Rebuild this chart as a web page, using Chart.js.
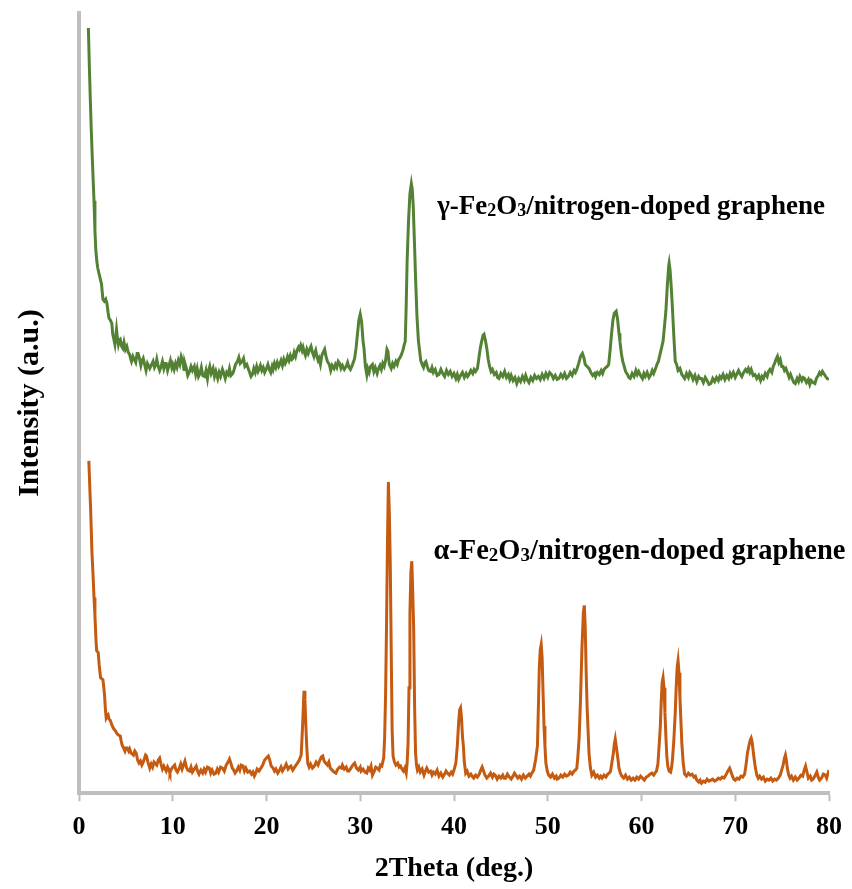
<!DOCTYPE html>
<html>
<head>
<meta charset="utf-8">
<script src="https://cdn.jsdelivr.net/npm/chart.js@4.4.1/dist/chart.umd.min.js"></script>
<style>
  body { margin: 0; background: #fff; }
  #wrap { width: 852px; height: 889px; }
</style>
</head>
<body>
<div id="wrap"><canvas id="xrd"></canvas></div>
<script>
// 2theta positions and intensities (a.u., offset traces)
var gammaTheta = [1.0,1.1,1.2,1.3,1.4,1.5,1.6,1.7,1.8,1.9,2.0,2.2,2.4,2.55,2.7,2.85,2.98,3.1,3.2,3.35,3.5,3.6,3.7,3.83,3.92,4.0,4.1,4.2,4.3,4.4,4.55,4.68,4.8,4.95,5.1,5.25,5.4,5.5,5.6,5.75,5.9,6.05,6.2,6.3,6.45,6.6,6.7,6.85,7.0,7.15,7.3,7.45,7.55,7.7,7.9,8.05,8.2,8.3,8.45,8.6,8.75,8.9,9.05,9.2,9.3,9.45,9.6,9.75,9.9,10.0,10.15,10.3,10.45,10.6,10.75,10.9,11.05,11.2,11.3,11.45,11.6,11.8,11.95,12.1,12.3,12.45,12.6,12.75,12.9,13.05,13.2,13.4,13.55,13.7,13.8,13.95,14.1,14.3,14.45,14.6,14.8,14.95,15.1,15.3,15.45,15.6,15.75,15.9,16.05,16.2,16.4,16.55,16.7,16.9,17.05,17.2,17.4,17.55,17.7,17.9,18.05,18.2,18.35,18.5,18.65,18.8,18.95,19.1,19.2,19.35,19.5,19.65,19.8,20.0,20.15,20.3,20.45,20.6,20.7,20.85,21.0,21.15,21.3,21.4,21.55,21.7,21.85,22.0,22.1,22.25,22.4,22.55,22.7,22.8,22.95,23.1,23.25,23.4,23.5,23.65,23.8,23.9,24.0,24.15,24.3,24.45,24.6,24.75,24.9,25.05,25.1,25.25,25.4,25.5,25.6,25.75,25.9,26.05,26.2,26.35,26.5,26.7,26.85,27.0,27.2,27.35,27.5,27.65,27.8,27.95,28.1,28.3,28.5,28.65,28.8,28.95,29.1,29.25,29.4,29.55,29.7,29.85,30.0,30.15,30.3,30.4,30.55,30.7,30.8,30.95,31.1,31.3,31.45,31.6,31.8,31.95,32.1,32.25,32.4,32.55,32.7,32.85,32.95,33.1,33.3,33.45,33.6,33.8,33.95,34.1,34.25,34.4,34.55,34.7,34.8,34.9,35.0,35.15,35.3,35.45,35.55,35.65,35.8,35.9,36.05,36.2,36.3,36.45,36.6,36.75,36.9,37.0,37.15,37.3,37.5,37.65,37.8,38.0,38.2,38.4,38.6,38.8,39.0,39.2,39.4,39.6,39.8,40.0,40.2,40.35,40.5,40.7,40.9,41.1,41.3,41.45,41.6,41.8,42.0,42.15,42.3,42.5,42.65,42.8,42.95,43.1,43.2,43.35,43.5,43.65,43.8,43.95,44.1,44.3,44.5,44.65,44.8,45.0,45.2,45.4,45.6,45.8,45.95,46.1,46.3,46.5,46.7,46.9,47.1,47.3,47.5,47.65,47.8,48.0,48.2,48.4,48.6,48.8,49.0,49.2,49.4,49.6,49.8,50.0,50.2,50.4,50.6,50.8,51.0,51.2,51.4,51.6,51.8,52.0,52.2,52.4,52.6,52.8,52.95,53.1,53.3,53.5,53.7,53.85,54.0,54.2,54.4,54.6,54.8,55.0,55.1,55.3,55.5,55.7,55.85,56.0,56.2,56.35,56.5,56.65,56.8,56.95,57.1,57.3,57.45,57.6,57.7,57.85,58.0,58.1,58.3,58.5,58.65,58.8,59.0,59.2,59.4,59.55,59.7,59.9,60.1,60.25,60.4,60.6,60.8,61.0,61.15,61.3,61.5,61.65,61.8,61.95,62.1,62.3,62.45,62.6,62.75,62.9,62.95,63.05,63.2,63.3,63.45,63.6,63.75,63.9,64.1,64.3,64.45,64.6,64.8,65.0,65.15,65.3,65.5,65.7,65.9,66.1,66.25,66.4,66.6,66.8,67.0,67.2,67.4,67.6,67.8,68.0,68.2,68.35,68.5,68.7,68.9,69.1,69.3,69.45,69.6,69.8,70.0,70.2,70.35,70.5,70.7,70.9,71.1,71.25,71.4,71.55,71.7,71.9,72.1,72.3,72.5,72.7,72.85,73.0,73.2,73.4,73.55,73.7,73.9,74.05,74.2,74.35,74.5,74.65,74.8,74.95,75.1,75.25,75.4,75.6,75.75,75.9,76.1,76.25,76.4,76.6,76.75,76.9,77.1,77.25,77.4,77.6,77.8,77.95,78.1,78.3,78.5,78.65,78.85,79.0,79.15,79.3,79.5,79.65,79.8,80.0];
var gammaInt = [767,730,698,668,642,618,595,565,545,535,528,520,512,497,495,497,493,484,478,476,473,462,458,452,460,467,458,452,456,457,450,448,454,447,450,444,442,438,435,440,437,434,443,443,438,431,435,438,432,426,433,430,428,431,435,429,432,437,430,426,430,435,428,433,433,426,431,436,429,432,427,433,429,436,432,440,436,427,433,428,421,425,430,426,430,422,428,420,423,429,421,420,426,418,425,430,423,428,420,425,418,424,420,427,423,418,424,422,428,421,423,427,432,435,439,433,435,438,430,432,428,424,420,422,428,424,430,425,427,431,426,429,424,428,432,427,424,430,427,433,429,434,430,432,436,431,437,433,435,440,436,441,437,438,444,440,446,449,447,451,446,449,445,441,447,443,447,450,444,440,442,446,439,436,438,432,441,444,447,440,435,432,426,431,428,432,429,435,433,428,431,427,430,434,429,427,430,434,438,448,462,476,482,474,455,448,430,422,428,424,430,432,425,429,423,428,431,427,433,430,436,447,445,432,428,433,430,435,432,437,439,442,446,452,455,490,535,575,602,612,606,590,548,518,480,456,448,436,432,429,434,435,430,426,425,429,424,427,421,422,427,423,420,426,422,425,420,423,418,422,417,421,424,419,423,420,422,426,423,427,425,428,438,448,455,461,462,456,448,437,430,425,427,422,424,419,418,423,420,425,419,422,417,421,416,419,413,418,415,420,416,421,417,414,419,416,421,418,420,417,422,418,423,419,424,422,418,421,417,418,422,419,423,418,420,424,421,426,424,427,433,440,443,439,432,430,428,424,421,423,420,424,422,426,423,427,429,430,432,446,462,476,483,485,477,463,455,443,435,432,425,422,419,418,423,420,426,422,425,421,418,423,420,424,419,422,426,423,428,432,435,441,447,455,470,485,510,530,533,526,505,488,460,435,432,426,428,422,420,418,423,419,424,422,417,421,415,420,418,418,414,419,416,412,413,418,415,419,416,420,418,422,417,421,418,423,420,424,419,423,426,423,420,424,427,425,428,424,427,421,422,418,421,416,420,418,423,420,425,427,424,430,433,437,440,434,437,430,430,426,428,423,419,422,417,414,413,418,415,420,416,419,418,414,417,412,416,414,413,418,421,424,422,425,422,420,418,417];

var alphaTheta = [1.05,1.15,1.24,1.38,1.5,1.6,1.7,1.8,1.88,1.97,2.05,2.15,2.3,2.42,2.55,2.65,2.73,2.82,2.9,3.0,3.1,3.2,3.3,3.4,3.5,3.65,3.8,3.9,4.0,4.2,4.4,4.5,4.6,4.75,4.9,5.0,5.15,5.3,5.4,5.55,5.7,5.8,5.95,6.1,6.25,6.4,6.55,6.7,6.85,7.0,7.1,7.2,7.35,7.55,7.7,7.85,8.0,8.1,8.3,8.45,8.6,8.75,8.9,9.05,9.15,9.3,9.45,9.6,9.7,9.85,10.0,10.2,10.35,10.5,10.7,10.85,11.0,11.15,11.3,11.45,11.6,11.8,11.95,12.1,12.3,12.5,12.65,12.8,13.0,13.2,13.35,13.5,13.7,13.9,14.05,14.2,14.4,14.6,14.75,14.9,15.1,15.3,15.5,15.7,15.9,16.05,16.2,16.35,16.5,16.65,16.8,17.0,17.15,17.3,17.5,17.65,17.8,18.0,18.2,18.4,18.55,18.7,18.85,19.0,19.2,19.4,19.6,19.8,20.0,20.2,20.35,20.5,20.7,20.85,21.0,21.2,21.4,21.55,21.7,21.9,22.1,22.3,22.45,22.6,22.8,23.0,23.15,23.3,23.5,23.7,23.85,24.0,24.1,24.2,24.3,24.4,24.55,24.7,24.9,25.1,25.3,25.5,25.7,25.85,26.0,26.15,26.3,26.5,26.65,26.8,27.0,27.2,27.4,27.6,27.8,28.0,28.1,28.3,28.5,28.65,28.8,29.0,29.2,29.4,29.6,29.8,30.0,30.1,30.3,30.5,30.7,30.85,31.0,31.15,31.3,31.5,31.65,31.8,32.0,32.15,32.3,32.5,32.6,32.7,32.8,32.9,33.0,33.1,33.2,33.3,33.4,33.5,33.65,33.8,34.0,34.15,34.3,34.45,34.6,34.75,34.9,35.0,35.1,35.2,35.3,35.4,35.5,35.6,35.7,35.8,35.9,36.0,36.1,36.25,36.4,36.6,36.8,36.95,37.1,37.3,37.5,37.65,37.8,38.0,38.2,38.4,38.6,38.8,39.0,39.15,39.3,39.5,39.7,39.85,40.0,40.2,40.35,40.5,40.6,40.7,40.8,40.9,41.0,41.1,41.25,41.4,41.6,41.8,42.0,42.1,42.3,42.5,42.7,42.85,43.0,43.15,43.3,43.5,43.7,43.9,44.1,44.25,44.4,44.6,44.8,45.0,45.2,45.35,45.5,45.7,45.9,46.1,46.3,46.45,46.6,46.8,47.0,47.2,47.4,47.6,47.8,48.0,48.15,48.3,48.5,48.7,48.9,49.0,49.1,49.2,49.3,49.4,49.5,49.6,49.7,49.8,49.95,50.1,50.3,50.5,50.7,50.9,51.0,51.2,51.4,51.6,51.8,52.0,52.2,52.4,52.6,52.8,52.95,53.1,53.2,53.35,53.5,53.65,53.8,53.9,54.0,54.1,54.2,54.3,54.4,54.55,54.7,54.9,55.1,55.3,55.5,55.65,55.8,56.0,56.2,56.4,56.55,56.7,56.85,57.0,57.1,57.2,57.3,57.4,57.5,57.6,57.75,57.9,58.1,58.3,58.5,58.7,58.9,59.1,59.3,59.5,59.7,59.9,60.1,60.3,60.5,60.7,60.9,61.1,61.3,61.5,61.6,61.75,61.85,62.0,62.1,62.2,62.3,62.4,62.5,62.6,62.7,62.8,62.95,63.1,63.2,63.3,63.45,63.6,63.7,63.8,63.9,64.0,64.1,64.2,64.3,64.45,64.6,64.8,65.0,65.2,65.4,65.6,65.75,65.9,66.1,66.25,66.4,66.6,66.8,67.0,67.2,67.4,67.6,67.8,68.0,68.2,68.4,68.6,68.8,69.0,69.2,69.4,69.55,69.7,69.85,70.0,70.2,70.4,70.6,70.8,71.0,71.15,71.3,71.45,71.6,71.7,71.8,71.9,72.0,72.15,72.3,72.45,72.6,72.8,73.0,73.2,73.4,73.6,73.8,74.0,74.2,74.4,74.6,74.8,74.95,75.1,75.25,75.35,75.45,75.55,75.7,75.85,76.0,76.2,76.4,76.6,76.8,77.0,77.2,77.35,77.5,77.65,77.8,78.0,78.15,78.3,78.5,78.7,78.85,79.0,79.2,79.4,79.6,79.75,79.9,80.0];
var alphaInt = [336,310,288,245,222,200,182,160,147,146,145,133,120,119,118,110,102,88,80,82,83,79,78,76,73,70,68,67,65,63,62,57,53,50,47,50,50,47,49,45,44,43,47,45,38,35,37,33,36,40,43,42,36,30,34,31,36,35,33,38,40,34,29,32,30,27,31,28,25,29,31,33,28,26,30,34,29,33,37,31,28,27,31,26,29,32,27,24,28,25,29,26,31,30,25,28,24,25,29,26,31,30,27,33,36,39,35,30,28,25,27,31,28,33,32,27,30,26,27,24,26,22,25,29,27,30,33,38,40,42,38,32,30,27,29,25,28,31,27,30,34,29,31,32,28,31,33,35,38,43,72,107,98,72,50,35,31,34,30,32,36,33,38,41,42,37,35,33,36,30,28,26,25,29,31,30,33,29,31,27,27,30,33,35,30,28,31,27,29,26,25,30,28,32,23,27,31,30,28,33,32,40,60,102,170,252,315,285,235,150,68,42,36,33,35,31,32,29,27,30,25,35,55,110,185,225,236,205,168,90,45,33,28,31,26,29,23,27,30,26,27,23,26,24,28,22,25,21,24,27,25,23,26,24,28,35,52,76,88,90,80,62,52,36,25,27,22,24,21,20,23,21,24,28,31,27,23,20,22,25,21,24,23,19,22,20,23,20,20,24,21,19,22,25,23,20,22,19,23,20,22,24,22,25,28,38,52,90,130,148,153,140,105,72,52,35,27,23,21,24,20,22,19,20,23,21,24,22,23,26,24,27,28,30,40,60,100,150,185,192,170,125,90,68,45,30,23,26,21,23,20,22,20,23,21,24,25,27,36,45,54,59,52,45,38,30,25,22,20,23,19,21,18,20,18,21,19,22,20,18,21,22,24,25,23,26,27,34,48,70,95,115,120,110,85,62,42,32,27,26,30,38,58,85,110,130,137,125,100,78,55,35,24,22,25,23,24,21,22,18,16,18,15,17,16,19,17,18,19,17,18,20,19,21,20,23,27,30,26,22,19,18,20,19,22,21,24,33,45,52,58,60,56,48,40,30,23,20,22,19,21,17,19,18,20,17,19,18,20,23,28,33,40,43,38,30,23,20,22,18,21,18,20,23,22,28,32,26,20,22,18,19,22,26,21,18,20,24,23,20,25,28];

var xTicks = [0, 10, 20, 30, 40, 50, 60, 70, 80];
var gammaLabel = ['γ-Fe', '2', 'O', '3', '/nitrogen-doped graphene'];
var alphaLabel = ['α-Fe', '2', 'O', '3', '/nitrogen-doped graphene'];

var serif = "'Liberation Serif', 'Times New Roman', serif";
Chart.defaults.font.family = serif;
Chart.defaults.color = '#000';

function toPoints(xs, ys) {
  return xs.map(function (t, i) { return { x: t, y: ys[i] }; });
}

// labels with subscript digits (odd entries are subscripts)
function drawLabel(ctx, parts, x, y, size) {
  ctx.save();
  ctx.fillStyle = '#000';
  ctx.textBaseline = 'alphabetic';
  ctx.textAlign = 'left';
  parts.forEach(function (p, i) {
    var sub = i % 2 === 1;
    ctx.font = 'bold ' + (sub ? Math.round(size * 0.68) : size) + 'px ' + serif;
    ctx.fillText(p, x, sub ? y + 2 : y);
    x += ctx.measureText(p).width;
  });
  ctx.restore();
}

var labelPlugin = {
  id: 'traceLabels',
  afterDatasetsDraw: function (chart) {
    var xs = chart.scales.x, ys = chart.scales.y;
    drawLabel(chart.ctx, gammaLabel, xs.getPixelForValue(38.2), ys.getPixelForValue(582), 27);
    drawLabel(chart.ctx, alphaLabel, xs.getPixelForValue(37.8), ys.getPixelForValue(238), 28.5);
  }
};

new Chart(document.getElementById('xrd'), {
  type: 'line',
  data: {
    datasets: [
      {
        label: 'gamma',
        data: toPoints(gammaTheta, gammaInt),
        borderColor: '#548235',
        borderWidth: 3,
        pointRadius: 0,
        tension: 0,
        fill: false
      },
      {
        label: 'alpha',
        data: toPoints(alphaTheta, alphaInt),
        borderColor: '#C55A11',
        borderWidth: 3,
        pointRadius: 0,
        tension: 0,
        fill: false
      }
    ]
  },
  options: {
    responsive: true,
    maintainAspectRatio: false,
    animation: false,
    layout: { padding: { left: 0, right: 18, top: 13, bottom: 0 } },
    plugins: { legend: { display: false }, tooltip: { enabled: false } },
    scales: {
      x: {
        type: 'linear',
        min: 0,
        max: 80,
        afterBuildTicks: function (axis) {
          axis.ticks = xTicks.map(function (v) { return { value: v }; });
        },
        ticks: { font: { size: 26, weight: 'bold' }, color: '#000', padding: 10 },
        grid: { drawOnChartArea: false, drawTicks: true, tickLength: 8, tickColor: '#BFBFBF', tickWidth: 2 },
        border: { color: '#BFBFBF', width: 4 },
        title: {
          display: true,
          text: '2Theta (deg.)',
          font: { size: 28, weight: 'bold' },
          color: '#000',
          padding: { top: 0, bottom: 3 }
        }
      },
      y: {
        min: 5,
        max: 782,
        ticks: { display: false },
        grid: { display: false },
        border: { color: '#BFBFBF', width: 4 },
        title: {
          display: true,
          text: 'Intensity (a.u.)',
          font: { size: 30, weight: 'bold' },
          color: '#000',
          padding: { top: 12, bottom: 23 }
        }
      }
    }
  },
  plugins: [labelPlugin]
});
</script>
</body>
</html>
